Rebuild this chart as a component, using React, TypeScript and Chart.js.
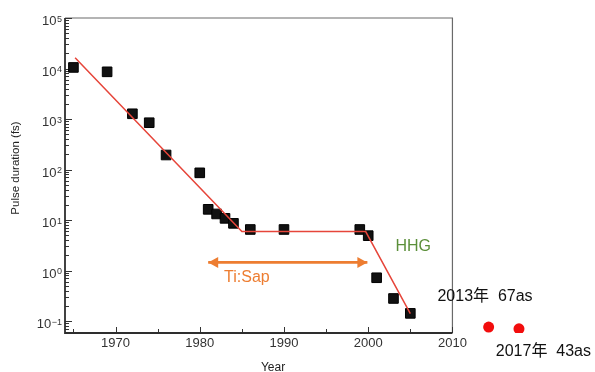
import { useEffect, useRef } from 'react';
import { Chart, registerables } from 'chart.js';

Chart.register(...registerables);

const FONT = '"Liberation Sans", Arial, "Noto Sans CJK SC", sans-serif';

// Measured pulse durations (fs) by year
const pointYears = [1965, 1969, 1972, 1974, 1976, 1980, 1981, 1982, 1983, 1984, 1986, 1990, 1999, 2000, 2001, 2003, 2005];
const pointDurations = [10500, 8600, 1270, 845, 194, 86, 16.3, 13.2, 10.8, 8.6, 6.5, 6.5, 6.5, 4.9, 0.72, 0.28, 0.142];

// Red trend line
const trendYears = [1965.2, 1985, 1999.7, 2005];
const trendDurations = [16400, 5.9, 5.9, 0.14];

// Ti:Sap arrow span
const tiSapYears = [1981, 1999.9];
const tiSapDurations = [1.45, 1.45];

// Attosecond records (red dots outside the frame)
const attoYears = [2014.3, 2017.9];
const attoDurations = [0.076, 0.07];

// Axis ticks
const xTickYears = [1965, 1970, 1975, 1980, 1985, 1990, 1995, 2000, 2005, 2010];
const yTickValues = [0.1, 1, 10, 100, 1000, 10000, 100000];
const yTickExponents = ['\u22121', '0', '1', '2', '3', '4', '5'];

// Text annotations (anchored in data coordinates)
const noteTexts = ['Ti:Sap', 'HHG', '2013年  67as', '2017年  43as'];
const noteYears = [1985.6, 2005.35, 2013.87, 2020.8];
const noteDurations = [0.71, 2.96, 0.303, 0.0247];
const noteColors = ['#ED7D31', '#5B8F3A', '#111111', '#111111'];

const X_MIN = 1964;
const X_MAX = 2026;
const FRAME_RIGHT_YEAR = 2010;
const Y_MIN = 0.058;
const Y_MAX = 100000;

const framePlugin = {
  id: 'frame',
  beforeDatasetsDraw(chart: any) {
    const { ctx, chartArea, scales } = chart;
    const xs = scales.x;
    const ys = scales.y;
    const left = chartArea.left;
    const top = chartArea.top;
    const bottom = chartArea.bottom;
    const right = xs.getPixelForValue(FRAME_RIGHT_YEAR);
    ctx.save();
    // top & right border
    ctx.strokeStyle = '#6a6a6a';
    ctx.lineWidth = 1.2;
    ctx.beginPath();
    ctx.moveTo(left, top);
    ctx.lineTo(right, top);
    ctx.lineTo(right, bottom);
    ctx.stroke();
    // y ticks (log, inward)
    ctx.strokeStyle = '#333';
    ctx.lineWidth = 1;
    for (let d = -2; d <= 5; d++) {
      for (let m = 1; m <= 9; m++) {
        const v = m * Math.pow(10, d);
        if (v < Y_MIN || v > Y_MAX * 1.0001) continue;
        const py = Math.round(ys.getPixelForValue(v)) + 0.5;
        const len = m === 1 ? 7 : 4;
        ctx.beginPath();
        ctx.moveTo(left, py);
        ctx.lineTo(left + len, py);
        ctx.stroke();
      }
    }
    // x ticks (inward)
    xTickYears.forEach((yr) => {
      const px = Math.round(xs.getPixelForValue(yr)) + 0.5;
      const len = yr % 10 === 0 ? 6 : 4;
      ctx.beginPath();
      ctx.moveTo(px, bottom);
      ctx.lineTo(px, bottom - len);
      ctx.stroke();
    });
    // left & bottom axes
    ctx.strokeStyle = '#2e2e2e';
    ctx.lineWidth = 1.8;
    ctx.beginPath();
    ctx.moveTo(left, top);
    ctx.lineTo(left, bottom);
    ctx.lineTo(right, bottom);
    ctx.stroke();

    // y tick labels: 10 with superscript exponent
    ctx.fillStyle = '#333';
    yTickValues.forEach((v, i) => {
      const py = ys.getPixelForValue(v);
      const exp = yTickExponents[i];
      ctx.font = `9px ${FONT}`;
      const ew = ctx.measureText(exp).width;
      const rightEdge = left - 3;
      const baseline = py + 7.2;
      ctx.textAlign = 'left';
      ctx.textBaseline = 'alphabetic';
      ctx.fillText(exp, rightEdge - ew, baseline - 3.4);
      ctx.font = `13px ${FONT}`;
      ctx.textAlign = 'right';
      ctx.fillText('10', rightEdge - ew - 0.5, baseline);
    });
    ctx.restore();
  },
};

const annotationPlugin = {
  id: 'annotations',
  afterDatasetsDraw(chart: any) {
    const { ctx, scales } = chart;
    const xs = scales.x;
    const ys = scales.y;
    ctx.save();

    // arrow heads on the Ti:Sap span
    const meta = chart.getDatasetMeta(2);
    const pts = meta.data;
    if (pts.length >= 2) {
      const a = pts[0];
      const b = pts[pts.length - 1];
      ctx.fillStyle = '#ED7D31';
      const head = (tx: number, ty: number, dir: number) => {
        ctx.beginPath();
        ctx.moveTo(tx, ty);
        ctx.lineTo(tx - dir * 10, ty - 5.5);
        ctx.lineTo(tx - dir * 10, ty + 5.5);
        ctx.closePath();
        ctx.fill();
      };
      head(a.x, a.y, -1);
      head(b.x, b.y, 1);
    }

    ctx.textAlign = 'center';
    ctx.textBaseline = 'middle';
    ctx.font = `16px ${FONT}`;
    noteTexts.forEach((t, i) => {
      ctx.fillStyle = noteColors[i];
      ctx.fillText(t, xs.getPixelForValue(noteYears[i]), ys.getPixelForValue(noteDurations[i]));
    });

    // axis titles
    ctx.fillStyle = '#222';
    ctx.font = `12px ${FONT}`;
    ctx.textBaseline = 'top';
    ctx.fillText('Year', 273, 362);
    ctx.save();
    ctx.translate(16, 168);
    ctx.rotate(-Math.PI / 2);
    ctx.textBaseline = 'middle';
    ctx.font = `11.5px ${FONT}`;
    ctx.fillText('Pulse duration (fs)', 0, 0);
    ctx.restore();
    ctx.restore();
  },
};

export default function App() {
  const ref = useRef<HTMLCanvasElement>(null);

  useEffect(() => {
    const canvas = ref.current;
    if (!canvas) return;
    const chart = new Chart(canvas, {
      type: 'scatter',
      data: {
        datasets: [
          {
            label: 'Trend',
            data: trendYears.map((x, i) => ({ x, y: trendDurations[i] })),
            showLine: true,
            borderColor: '#E6453A',
            borderWidth: 1.5,
            pointRadius: 0,
            tension: 0,
            order: 0,
          },
          {
            label: 'Pulse duration',
            data: pointYears.map((x, i) => ({ x, y: pointDurations[i] })),
            pointStyle: 'rect',
            pointRadius: 6.8,
            backgroundColor: '#111',
            borderColor: '#000',
            borderWidth: 1,
            order: 1,
          },
          {
            label: 'Ti:Sap',
            data: tiSapYears.map((x, i) => ({ x, y: tiSapDurations[i] })),
            showLine: true,
            borderColor: '#ED7D31',
            borderWidth: 2.8,
            pointRadius: 0,
            order: 2,
          },
          {
            label: 'Attosecond',
            data: attoYears.map((x, i) => ({ x, y: attoDurations[i] })),
            pointStyle: 'circle',
            pointRadius: 5.5,
            backgroundColor: '#F20D0D',
            borderColor: '#F20D0D',
            borderWidth: 0,
            order: 3,
          },
        ],
      },
      options: {
        responsive: false,
        animation: false,
        devicePixelRatio: 1,
        layout: { padding: { top: 18, right: 6, left: 0, bottom: 0 } },
        plugins: {
          legend: { display: false },
          tooltip: { enabled: false },
          title: { display: false },
        },
        scales: {
          x: {
            type: 'linear',
            min: X_MIN,
            max: X_MAX,
            afterBuildTicks: (s: any) => {
              s.ticks = xTickYears.map((v) => ({ value: v }));
            },
            afterFit: (s: any) => {
              s.height = 39;
            },
            grid: { display: false, drawTicks: false },
            border: { display: false },
            ticks: {
              autoSkip: false,
              maxRotation: 0,
              padding: 3,
              color: '#333',
              font: { family: FONT, size: 13 },
              callback: (v: any) => (Number(v) % 10 === 0 ? String(v) : ''),
            },
          },
          y: {
            type: 'logarithmic',
            min: Y_MIN,
            max: Y_MAX,
            afterBuildTicks: (s: any) => {
              s.ticks = yTickValues.map((v) => ({ value: v }));
            },
            afterFit: (s: any) => {
              s.width = 65;
            },
            grid: { display: false, drawTicks: false },
            border: { display: false },
            ticks: { display: false },
          },
        },
      },
      plugins: [framePlugin, annotationPlugin],
    } as any);
    return () => chart.destroy();
  }, []);

  return (
    <div style={{ position: 'fixed', left: 0, top: 0, width: 595, height: 372, background: '#fff' }}>
      <canvas ref={ref} width={595} height={372} style={{ display: 'block', width: 595, height: 372 }} />
    </div>
  );
}
